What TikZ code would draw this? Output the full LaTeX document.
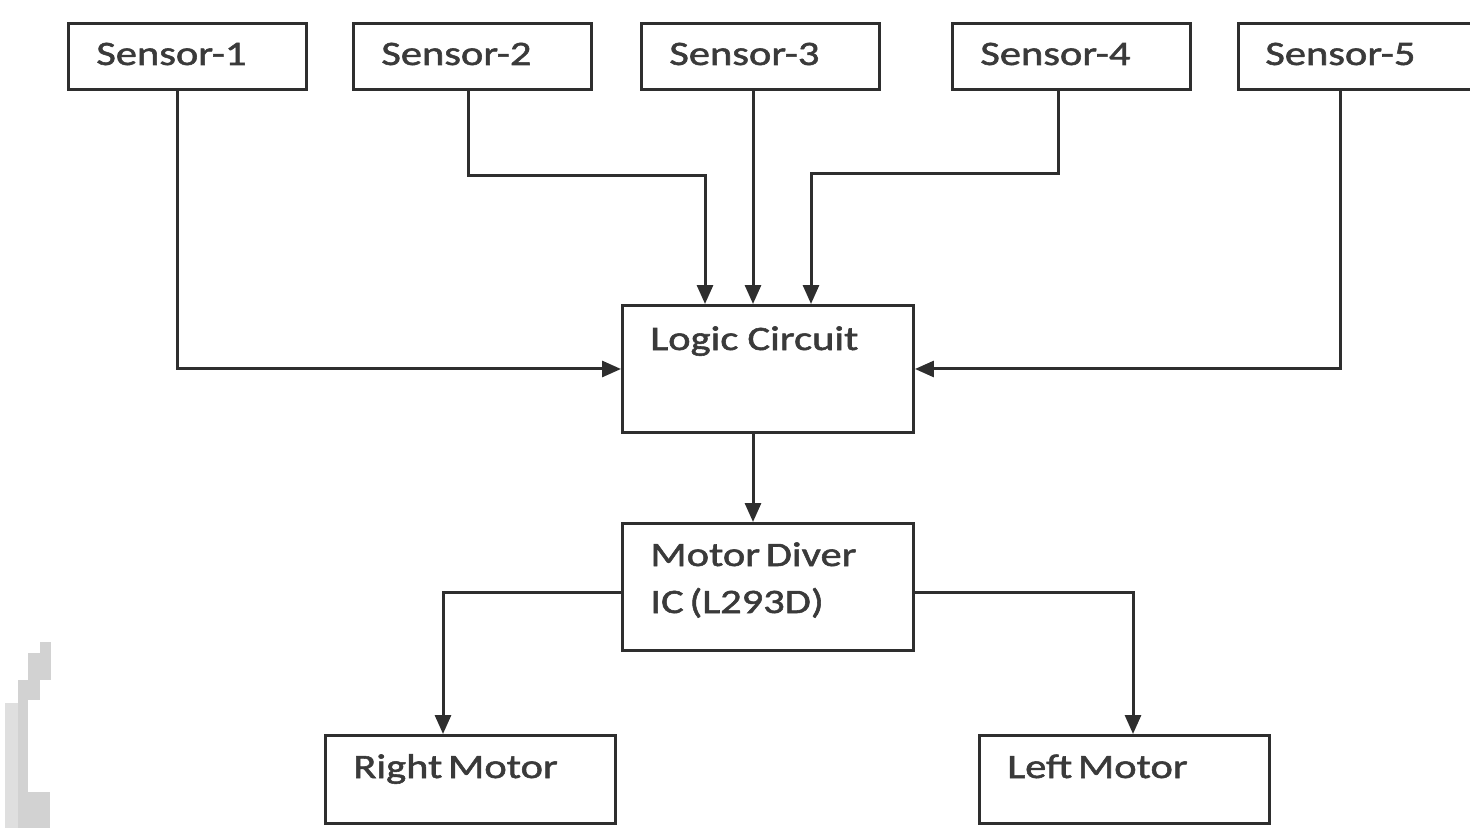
\documentclass[tikz,border=0pt]{standalone}
\usepackage{fontspec}
\newfontfamily\lblfont[FakeStretch=1.24, FakeBold=1.6, WordSpace=0.6]{Carlito}
\usetikzlibrary{arrows.meta}
\definecolor{edge}{HTML}{2E2E2E}
\definecolor{ink}{HTML}{3A3A3A}
\definecolor{smudge}{HTML}{D2D2D2}
\tikzset{
  blk/.style={draw=edge, line width=0.06cm, rectangle, anchor=north west, inner sep=0pt},
  sensorbox/.style={blk, minimum width=4.76cm, minimum height=1.32cm},
  bigbox/.style={blk, minimum width=5.82cm, minimum height=2.54cm},
  motorbox/.style={blk, minimum width=5.8cm, minimum height=1.76cm},
  lbl/.style={anchor=base west, inner sep=0pt, text=ink, font=\lblfont\fontsize{19.5}{24}\selectfont},
  link/.style={draw=edge, line width=0.06cm},
  arr/.style={link, -{Triangle[length=0.38cm, width=0.32cm]}},
}
\begin{document}
\begin{tikzpicture}[x=0.02cm, y=-0.02cm]
\useasboundingbox (0,0) rectangle (1470,828);

% faint scan mark along the lower left edge
\fill[smudge!70] (5,703) rectangle (18,828);
\fill[smudge] (18,680) rectangle (28,828);
\fill[smudge] (28,653) rectangle (40,700);
\fill[smudge] (40,642) rectangle (51,680);
\fill[smudge] (28,792) rectangle (50,828);

% sensor row
\node[sensorbox] (s1) at (67,22) {};
\node[sensorbox] (s2) at (352,22) {};
\node[sensorbox] (s3) at (640,22) {};
\node[sensorbox] (s4) at (951,22) {};
\node[sensorbox] (s5) at (1237,22) {};
\node[lbl] (s1t) at (96,65) {Sensor-1};
\node[lbl] (s2t) at (381,65) {Sensor-2};
\node[lbl] (s3t) at (669,65) {Sensor-3};
\node[lbl] (s4t) at (980,65) {Sensor-4};
\node[lbl] (s5t) at (1265,65) {Sensor-5};

% processing chain
\node[bigbox] (logic) at (621,304) {};
\node[lbl] (logict) at (650,350) {Logic\hspace{0.1em} Circuit};
\node[bigbox] (drv) at (621,522) {};
\node[lbl] (drvt1) at (650,566) {Motor Diver};
\node[lbl] (drvt2) at (650,613) {IC (L293D)};

% motors
\node[motorbox] (rm) at (324,734) {};
\node[lbl] (rmt) at (353,778) {Right Motor};
\node[motorbox] (lm) at (978,734) {};
\node[lbl] (lmt) at (1007,778) {Left Motor};

% routing points
\coordinate (x1) at (177,0);
\coordinate (x5) at (1340,0);
\coordinate (k2) at (468,175);
\coordinate (k2b) at (705,175);
\coordinate (x3) at (753,0);
\coordinate (k4) at (1058,173);
\coordinate (k4b) at (811,173);
\coordinate (ym) at (0,592);
\coordinate (xr) at (443,0);
\coordinate (xl) at (1133,0);

% sensors to logic
\draw[arr] (s1.south -| x1) |- (logic.west);
\draw[arr] (s2.south -| k2) -- (k2) -- (k2b) -- (logic.north -| k2b);
\draw[arr] (s3.south -| x3) -- (logic.north -| x3);
\draw[arr] (s4.south -| k4) -- (k4) -- (k4b) -- (logic.north -| k4b);
\draw[arr] (s5.south -| x5) |- (logic.east);

% logic to driver, driver to motors
\draw[arr] (logic.south -| x3) -- (drv.north -| x3);
\draw[arr] (drv.west |- ym) -| (rm.north -| xr);
\draw[arr] (drv.east |- ym) -| (lm.north -| xl);
\end{tikzpicture}
\end{document}
